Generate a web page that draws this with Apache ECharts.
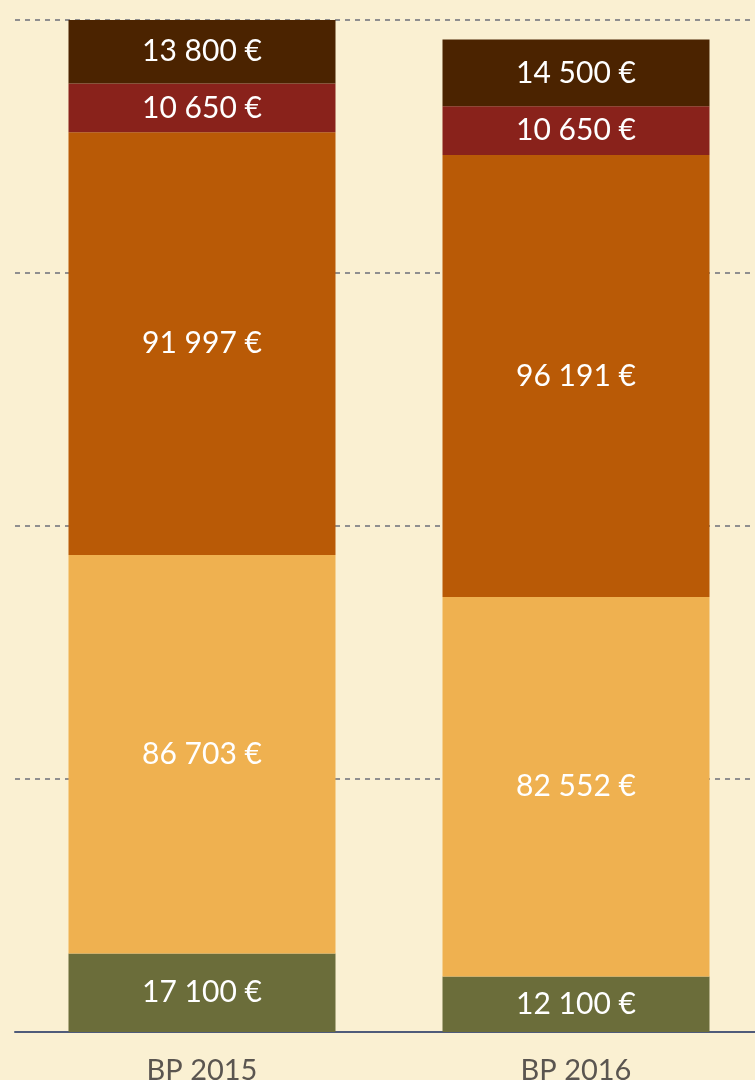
<!DOCTYPE html>
<html>
<head>
<meta charset="utf-8">
<script src="https://cdn.jsdelivr.net/npm/echarts@6/dist/echarts.min.js"></script>
<style>
  html, body { margin: 0; padding: 0; background: #faf0d2; }
  #chart { width: 755px; height: 1080px; }
</style>
</head>
<body>
<div id="chart"></div>
<script>
// catégories
const categories = ['BP 2015', 'BP 2016']
// séries, du bas vers le haut
const serie1 = [17100, 12100]
const serie2 = [86703, 82552]
const serie3 = [91997, 96191]
const serie4 = [10650, 10650]
const serie5 = [13800, 14500]

const colors = ['#6b6d3a', '#efb150', '#b95a06', '#89221b', '#4b2300']

const fmt = (v) => String(v).replace(/\B(?=(\d{3})+(?!\d))/g, ' ') + ' €'

let myCharts = echarts.init(document.getElementById('chart'))

const makeSerie = (name, data, i) => ({
  name: name,
  type: 'bar',
  stack: 'total',
  data: data,
  barWidth: 267,
  itemStyle: { color: colors[i] },
  label: {
    show: true,
    position: 'inside',
    color: '#ffffff',
    fontFamily: 'Lato',
    fontSize: 30,
    formatter: (p) => fmt(p.value),
  },
})

myCharts.setOption({
  backgroundColor: '#faf0d2',
  animation: false,
  grid: {
    left: 15,
    top: 20,
    width: 748,
    height: 1012,
    containLabel: false,
    outerBoundsMode: 'none',
  },
  xAxis: {
    type: 'category',
    data: categories,
    axisLine: {
      show: true,
      lineStyle: { color: '#4f5b7a', width: 2 },
    },
    axisTick: { show: false },
    axisLabel: {
      color: '#5a5550',
      fontFamily: 'Lato',
      fontSize: 29,
      margin: 24,
    },
  },
  yAxis: {
    type: 'value',
    min: 0,
    max: 220250,
    interval: 55062.5,
    axisLine: { show: false },
    axisTick: { show: false },
    axisLabel: { show: false },
    //lignes pointillées
    splitLine: {
      show: true,
      lineStyle: { color: '#8f8f8f', width: 2, type: [5, 5] },
    },
  },
  series: [
    makeSerie('Série 1', serie1, 0),
    makeSerie('Série 2', serie2, 1),
    makeSerie('Série 3', serie3, 2),
    makeSerie('Série 4', serie4, 3),
    makeSerie('Série 5', serie5, 4),
  ],
})
</script>
</body>
</html>
